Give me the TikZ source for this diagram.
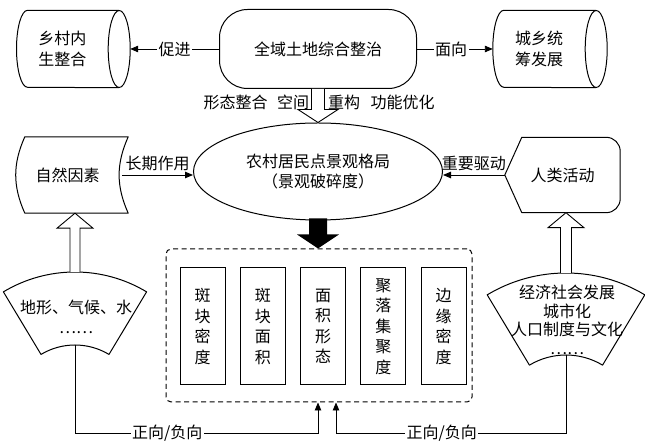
\documentclass[tikz,border=0pt]{standalone}
\usepackage{fontspec}
\setmainfont{Noto Sans CJK SC}
\usepackage{tikz}
\usetikzlibrary{positioning, arrows.meta, shapes.geometric, calc}
\newcommand{\zhfont}{\fontsize{16pt}{20.5pt}\selectfont}
\tikzset{
  plan/.style={rectangle, rounded corners=28pt, draw, line width=1pt,
               minimum width=197pt, minimum height=79pt, align=center},
  core/.style={ellipse, draw, line width=1pt, minimum width=249pt,
               minimum height=97pt, align=center},
  tag/.style={rectangle, align=center},
  idx/.style={rectangle, draw, line width=1pt, minimum width=45pt,
              minimum height=117pt, align=center},
  frame/.style={rectangle, rounded corners=5pt, draw, line width=1pt,
                dash pattern=on 5pt off 3.5pt, minimum width=306pt,
                minimum height=153pt},
  outline/.style={draw, line width=1pt, line join=round},
  hollow/.style={draw, line width=0.9pt, fill=white},
  arr/.style={-{Triangle[length=8pt, width=6.5pt]}, line width=0.9pt},
  lbl/.style={fill=white, inner sep=1.5pt},
}
\begin{document}
\begin{tikzpicture}[x=1pt, y=1pt, every node/.style={font=\zhfont}]
    \useasboundingbox (0,0) rectangle (645,444);
    \node[tag, minimum width=91.3pt, minimum height=77pt] (lc) at (62.35,395) {乡村内\\生整合};
    \node[plan] (top) at (318,395) {全域土地综合整治};
    \node[tag, minimum width=92pt, minimum height=77pt] (rc) at (539,395) {城乡统\\筹发展};
    \node[core] (ell) at (318,272.5) {农村居民点景观格局\\（景观破碎度）};
    \node[tag, minimum width=101pt, minimum height=76pt] (nat) at (67.5,269) {自然因素};
    \node[tag, minimum width=115pt, minimum height=75pt] (hum) at (562.5,269) {人类活动};
    \node[frame] (dash) at (319,118.5) {};
    \node[idx] (b1) at (202.5,117.5) {斑\\块\\密\\度};
    \node[idx, right=14.25pt of b1] (b2) {斑\\块\\面\\积};
    \node[idx, right=14.25pt of b2] (b3) {面\\积\\形\\态};
    \node[idx, right=14.25pt of b3] (b4) {聚\\落\\集\\聚\\度};
    \node[idx, right=14.25pt of b4] (b5) {边\\缘\\密\\度};
    \node (t1) at (235.5,342) {形态整合};
    \node (t2) at (293,342) {空间};
    \node (t3) at (344,342) {重构};
    \node (t4) at (402.5,342) {功能优化};
    \foreach \c in {lc, rc} {
      \draw[outline] ([xshift=11pt]\c.north east) -- ([xshift=11pt]\c.north west)
            arc[start angle=90, end angle=270, x radius=11pt, y radius=38.5pt]
            -- ([xshift=11pt]\c.south east);
      \draw[outline] ([xshift=11pt]\c.east) ellipse[x radius=11pt, y radius=38.5pt];
    }
    \draw[outline] ([xshift=8pt]nat.north west) -- ([xshift=10pt]nat.north east)
          to[bend right=24] ([xshift=10pt]nat.south east)
          -- ([xshift=8pt]nat.south west) to[bend left=24] cycle;
    \draw[outline] (hum.west) -- ([xshift=17pt]hum.north west)
          -- ([xshift=-14pt]hum.north east) arc[start angle=90, end angle=0, radius=14pt]
          -- ([yshift=14pt]hum.south east) arc[start angle=0, end angle=-90, radius=14pt]
          -- ([xshift=17pt]hum.south west) -- cycle;
    \coordinate (lfc) at (75,33);
    \coordinate (rfc) at (566,18);
    \coordinate (lftop) at ($(lfc)+(0,139)$);
    \coordinate (lfbot) at ($(lfc)+(0,66)$);
    \coordinate (rftop) at ($(rfc)+(0,153)$);
    \coordinate (rfbot) at ($(rfc)+(0,71)$);
    \draw[outline] ($(lfc)+(59:139)$) arc[start angle=59, end angle=121, radius=139]
          -- ($(lfc)+(121:66)$) arc[start angle=121, end angle=59, radius=66] -- cycle;
    \draw[outline] ($(rfc)+(59:153)$) arc[start angle=59, end angle=121, radius=153]
          -- ($(rfc)+(121:71)$) arc[start angle=121, end angle=59, radius=71] -- cycle;
    \node[align=center] (lfan) at (76,127) {地形、气候、水\\……};
    \node[align=center, font=\fontsize{16pt}{18.7pt}\selectfont] (rfan) at (567,124)
          {经济社会发展\\城市化\\人口制度与文化\\……};
    \draw[arr] (top.west) -- node[lbl]{促进} ([xshift=22pt]lc.east);
    \draw[arr] (top.east) -- node[lbl, pos=0.45]{面向} (rc.west);
    \draw[arr] ([xshift=4pt]nat.east) -- node[above]{长期作用} (ell.west |- nat.east);
    \draw[arr] (hum.west) -- node[above]{重要驱动} (ell.east |- hum.west);
    \draw[hollow] ($(top.south)+(-6.5,0)$) -- ($(ell.north)+(-6.5,13)$)
          -- ($(ell.north)+(-20,13)$) -- (ell.north) -- ($(ell.north)+(20,13)$)
          -- ($(ell.north)+(6.5,13)$) -- ($(top.south)+(6.5,0)$);
    \coordinate (ltip) at (lftop |- nat.south);
    \coordinate (rtip) at (rftop |- hum.south);
    \draw[hollow] ($(lftop)+(-5,0)$) -- ($(ltip)+(-5,-15)$) -- ($(ltip)+(-18,-15)$)
          -- (ltip) -- ($(ltip)+(18,-15)$) -- ($(ltip)+(5,-15)$) -- ($(lftop)+(5,0)$);
    \draw[hollow] ($(rftop)+(-5.5,0)$) -- ($(rtip)+(-5.5,-15)$) -- ($(rtip)+(-18,-15)$)
          -- (rtip) -- ($(rtip)+(18,-15)$) -- ($(rtip)+(5.5,-15)$) -- ($(rftop)+(5.5,0)$);
    \coordinate (btip) at (ell.south |- dash.north);
    \fill ($(ell.south)+(-9,2)$) -- ($(btip)+(-9,14)$) -- ($(btip)+(-21,14)$) -- (btip)
          -- ($(btip)+(21,14)$) -- ($(btip)+(9,14)$) -- ($(ell.south)+(9,2)$) -- cycle;
    \draw[arr] (lfbot) |- node[lbl, pos=0.69]{正向/负向} ($(dash.south)+(-1,-31)$)
          -- ($(dash.south)+(-1,0)$);
    \draw[arr] (rfbot) |- node[lbl, pos=0.77]{正向/负向} ($(dash.south)+(17,-31)$)
          -- ($(dash.south)+(17,0)$);
  \end{tikzpicture}
\end{document}
